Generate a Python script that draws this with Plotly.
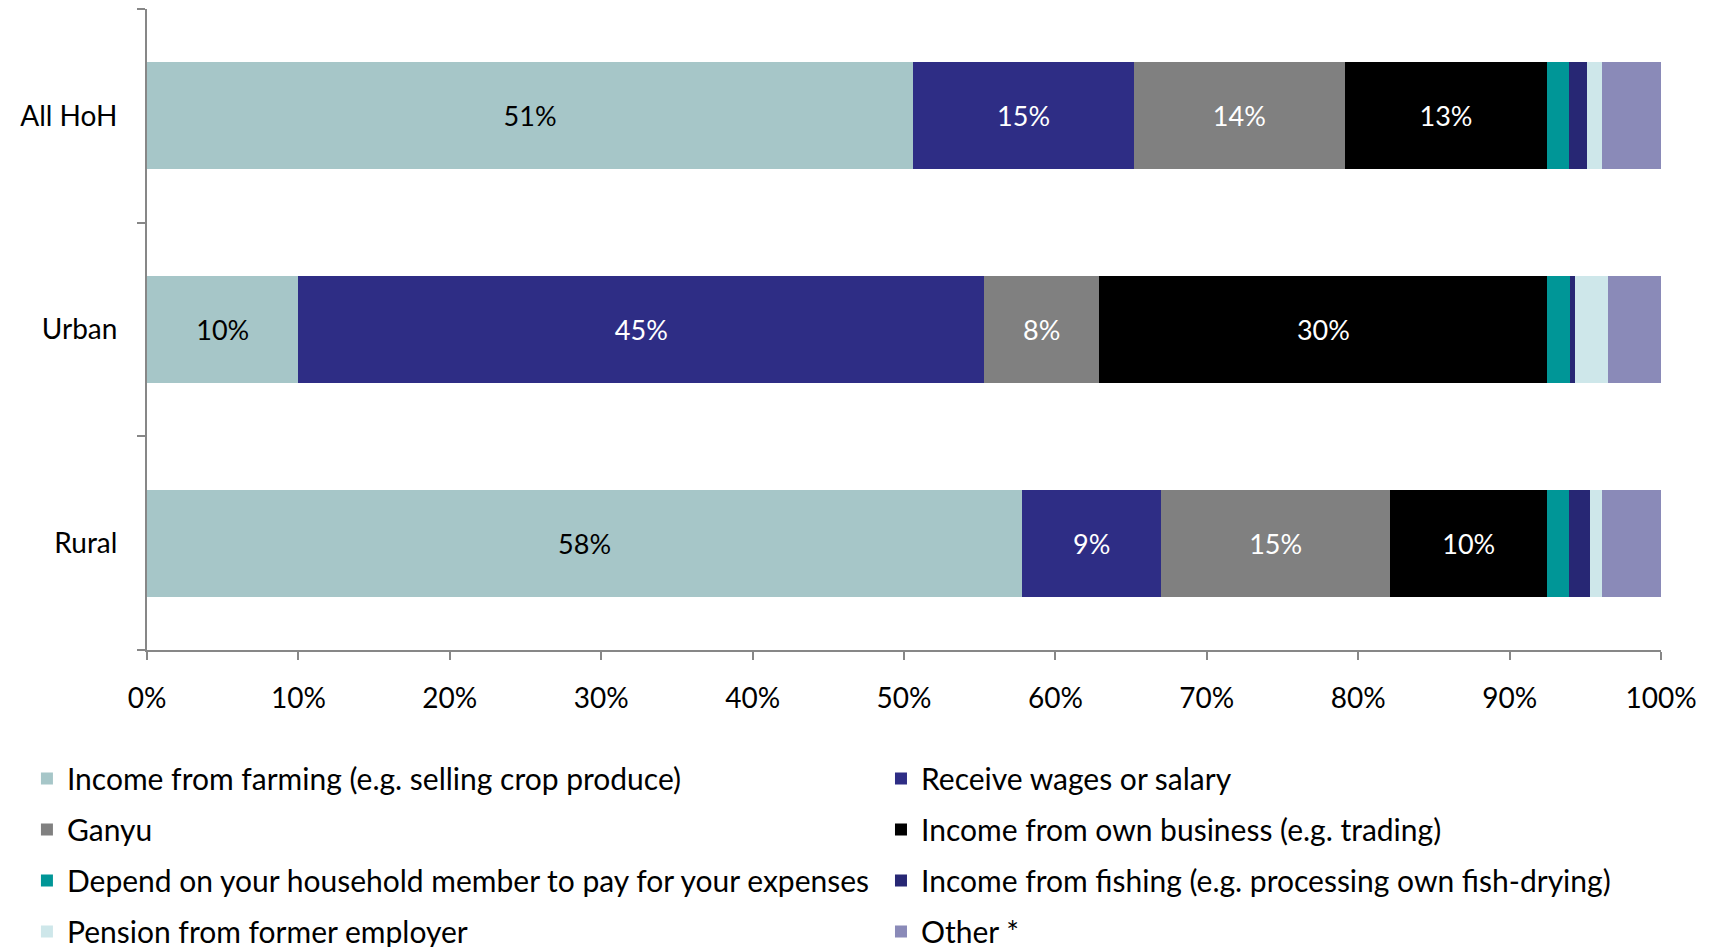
import plotly.graph_objects as go

# Household groups (top to bottom)
groups = ["All HoH", "Urban", "Rural"]

# Share of heads of household by main source of income (%)
farming  = [50.6, 10.0, 57.8]
wages    = [14.6, 45.3, 9.2]
ganyu    = [13.9, 7.6, 15.1]
business = [13.4, 29.6, 10.4]
depend   = [1.4, 1.5, 1.4]
fishing  = [1.2, 0.3, 1.4]
pension  = [1.0, 2.2, 0.8]
other    = [3.9, 3.5, 3.9]

# name, values, bar colour, label colour, legend column
series = [
    ("Income from farming (e.g. selling crop produce)", farming, "#A6C6C8", "#000000", "legend"),
    ("Receive wages or salary", wages, "#2E2D85", "#FFFFFF", "legend2"),
    ("Ganyu", ganyu, "#808080", "#FFFFFF", "legend"),
    ("Income from own business (e.g. trading)", business, "#000000", "#FFFFFF", "legend2"),
    ("Depend on your household member to pay for your expenses", depend, "#009697", "#FFFFFF", "legend"),
    ("Income from fishing (e.g. processing own fish-drying)", fishing, "#272774", "#FFFFFF", "legend2"),
    ("Pension from former employer", pension, "#CEE7EA", "#000000", "legend"),
    ("Other *", other, "#8A8AB8", "#000000", "legend2"),
]

FONT = "Lato"
AXIS_GREY = "#878787"
LEGEND_FONT = dict(family=FONT, size=30, color="#000000")

fig = go.Figure()
for i, (name, vals, color, txt_color, leg) in enumerate(series):
    labels = [f"{v:.0f}%" if v >= 5 else "" for v in vals]
    fig.add_trace(go.Bar(
        name=name,
        y=groups,
        x=vals,
        orientation="h",
        marker=dict(color=color, line=dict(width=0)),
        width=0.5,
        text=labels,
        textposition="inside",
        insidetextanchor="middle",
        textangle=0,
        textfont=dict(family=FONT, size=27, color=txt_color),
        legend=leg,
        legendgroup=f"g{i}",
        hovertemplate="%{y}: %{x}%<extra>" + name + "</extra>",
    ))

legend_common = dict(
    orientation="v",
    yanchor="top",
    y=-0.16,
    xanchor="left",
    font=LEGEND_FONT,
    traceorder="grouped",
    tracegroupgap=9,
    itemclick=False,
    bgcolor="rgba(0,0,0,0)",
)

fig.update_layout(
    barmode="stack",
    width=1711,
    height=947,
    paper_bgcolor="white",
    plot_bgcolor="white",
    font=dict(family=FONT, color="#000000"),
    margin=dict(l=147, r=50, t=9, b=297, autoexpand=False),
    showlegend=True,
    legend=dict(x=-0.0793, **legend_common),
    legend2=dict(x=0.4848, **legend_common),
    xaxis=dict(
        range=[0, 100],
        tickmode="array",
        tickvals=list(range(0, 101, 10)),
        ticktext=[f"{v}%" for v in range(0, 101, 10)],
        showgrid=False,
        zeroline=False,
        showline=True,
        linecolor=AXIS_GREY,
        linewidth=2,
        ticks="outside",
        ticklen=8,
        tickwidth=2,
        tickcolor=AXIS_GREY,
        ticklabelstandoff=14,
        tickfont=dict(family=FONT, size=28, color="#000000"),
    ),
    yaxis=dict(
        categoryorder="array",
        categoryarray=groups[::-1],
        showgrid=False,
        zeroline=False,
        showline=True,
        linecolor=AXIS_GREY,
        linewidth=2,
        ticks="outside",
        tickson="boundaries",
        ticklen=8,
        tickwidth=2,
        tickcolor=AXIS_GREY,
        ticklabelstandoff=22,
        tickfont=dict(family=FONT, size=28, color="#000000"),
    ),
)

fig.write_html("out.html")
